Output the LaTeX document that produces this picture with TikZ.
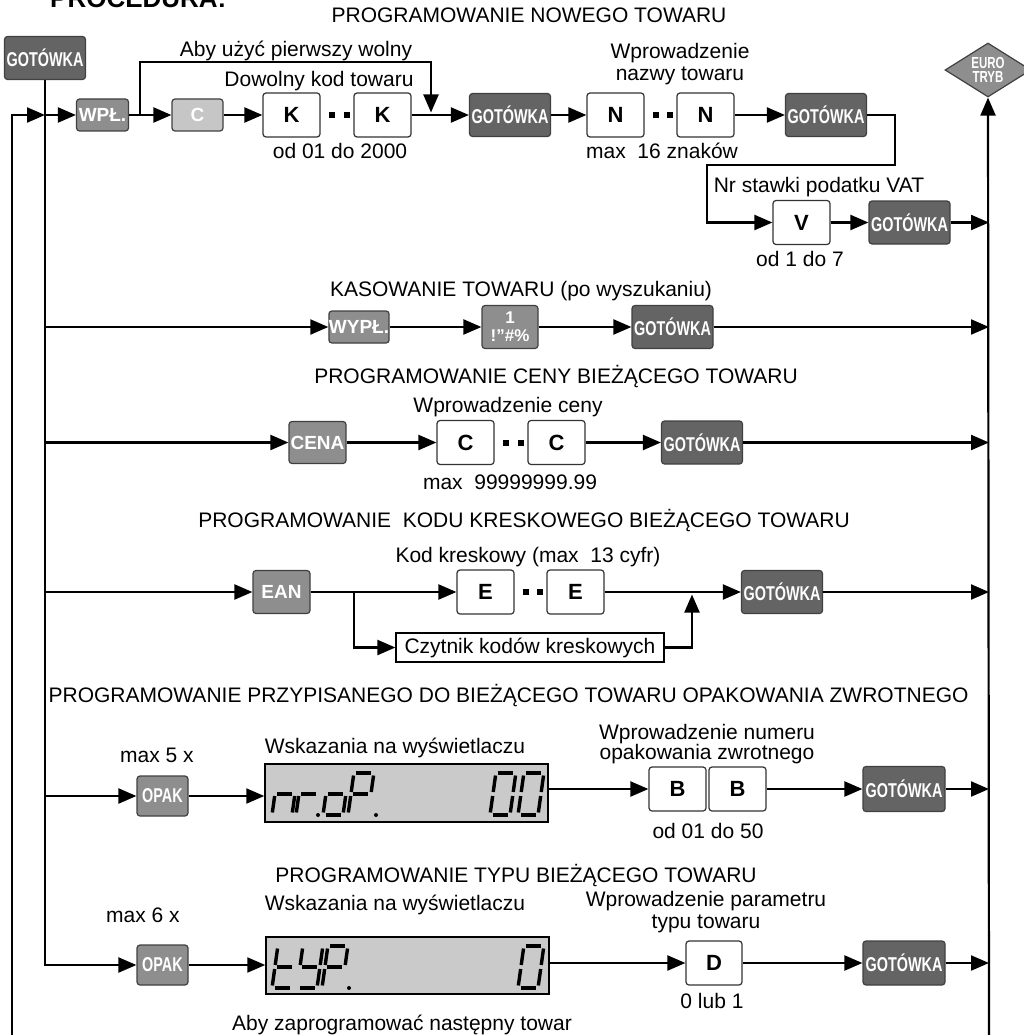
\documentclass[tikz,border=0pt]{standalone}
\usepackage{fontspec}
\setmainfont{Liberation Sans}
\newfontfamily\narrowkey{Liberation Sans}[FakeStretch=0.72]
\usetikzlibrary{arrows.meta,shapes.geometric,calc}
\definecolor{keydark}{HTML}{646464}
\definecolor{keymid}{HTML}{8E8E8E}
\definecolor{keylight}{HTML}{C6C6C6}
\definecolor{lcdgray}{HTML}{CACACA}
\newcommand\lcdA{(2.5,-42)--(17.5,-42)}
\newcommand\lcdB{(20,-39.5)--(20,-23)}
\newcommand\lcdC{(20,-19)--(20,-2.5)}
\newcommand\lcdD{(2.5,0)--(17.5,0)}
\newcommand\lcdE{(0,-19)--(0,-2.5)}
\newcommand\lcdF{(0,-39.5)--(0,-23)}
\newcommand\lcdG{(2.5,-21)--(17.5,-21)}
\newcommand\lcdchar[3]{\begin{scope}[shift={(#1,#2)},xslant=0.14]
  \foreach \s in {#3}{\draw[line width=3.4pt] \s;}\end{scope}}
\newcommand\lcddot[2]{\fill (#1,#2) circle (2pt);}
\begin{document}
\begin{tikzpicture}[x=1pt,y=-1pt,
  txt/.style={font=\fontsize{21}{22}\selectfont,inner sep=0pt,anchor=base},
  key/.style={draw=black!75,line width=1.2pt,rounded corners=3pt,text=white,inner sep=0pt,
    font=\bfseries\fontsize{19}{19}\selectfont},
  mkey/.style={key,fill=keymid,minimum width=52,minimum height=32},
  nkey/.style={font=\narrowkey\bfseries\fontsize{20}{20}\selectfont},
  gkey/.style={key,nkey,fill=keydark,minimum width=81,minimum height=43},
  wbox/.style={draw=black!80,line width=1.2pt,rounded corners=3pt,fill=white,inner sep=0pt,
    minimum width=57,minimum height=44,font=\bfseries\fontsize{22}{22}\selectfont},
  lcd/.style={draw,line width=1.5pt,fill=lcdgray,minimum width=283,minimum height=58,inner sep=0pt},
  ln/.style={line width=2.2pt},
  arr/.style={ln,-{Triangle[length=18pt,width=15pt]}}]
  \useasboundingbox (0,0) rectangle (1023,1035);
  \node[anchor=base west,inner sep=0pt,font=\bfseries\fontsize{26}{26}\selectfont] (PR) at (50,8) {PROCEDURA:};
  \node[gkey] (GT) at (45,58) {GOTÓWKA};
  \node[diamond,draw=black!75,line width=1.2pt,fill=keymid,minimum width=86,minimum height=54,inner sep=0pt,
    aspect=1.6,text=white,align=center,font=\narrowkey\bfseries\fontsize{16}{14}\selectfont] (EU) at (988,70) {EURO\\TRYB};
  \coordinate (LB) at (12,1040); \coordinate (RB) at (989,1040);

  \node[txt] (T1) at (529,22.5) {PROGRAMOWANIE NOWEGO TOWARU};
  \node[mkey] (W) at (102.5,115) {WPŁ.};
  \node[key,fill=keylight,minimum width=51,minimum height=32] (CK) at (197.5,115) {C};
  \node[wbox] (K1) at (291.5,115) {K}; \node[wbox] (K2) at (382.5,115) {K};
  \node[gkey] (G1) at (510,115) {GOTÓWKA};
  \node[wbox] (N1) at (615.5,115) {N}; \node[wbox] (N2) at (705.5,115) {N};
  \node[gkey] (G2) at (826,115) {GOTÓWKA};
  \node[wbox] (V) at (801.5,222.5) {V}; \node[gkey] (G3) at (909.5,222.5) {GOTÓWKA};
  \node[txt] (L1a) at (296,57) {Aby użyć pierwszy wolny};
  \node[txt] (L1b) at (319,87) {Dowolny kod towaru};
  \node[txt] (L1c) at (340,159) {od 01 do 2000};
  \node[txt,anchor=north,align=center] (L1d) at (680,42.7) {Wprowadzenie\\nazwy towaru};
  \node[txt] (L1e) at (662,159) {max\ \ 16 znaków};
  \node[txt] (L1f) at (819,193) {Nr stawki podatku VAT};
  \node[txt] (L1g) at (800,266) {od 1 do 7};

  \node[txt] (T2) at (521,296) {KASOWANIE TOWARU (po wyszukaniu)};
  \node[mkey] (WY) at (359,327) {WYPŁ.};
  \node[key,fill=keymid,minimum width=56,minimum height=43,align=center,
    font=\bfseries\fontsize{17}{18}\selectfont] (ONE) at (510,327) {1\\!”\#\%};
  \node[gkey] (G4) at (672.5,327) {GOTÓWKA};

  \node[txt] (T3) at (556,383) {PROGRAMOWANIE CENY BIEŻĄCEGO TOWARU};
  \node[txt] (L3a) at (508,412) {Wprowadzenie ceny};
  \node[mkey,minimum width=57,minimum height=42] (CE) at (317.5,442.5) {CENA};
  \node[wbox] (C1) at (465.5,442.5) {C}; \node[wbox] (C2) at (556.5,442.5) {C};
  \node[gkey] (G5) at (702,442.5) {GOTÓWKA};
  \node[txt] (L3b) at (510,489) {max\ \ 99999999.99};

  \node[txt] (T4) at (524,527) {PROGRAMOWANIE\ \ KODU KRESKOWEGO BIEŻĄCEGO TOWARU};
  \node[txt] (L4a) at (528,562) {Kod kreskowy (max\ \ 13 cyfr)};
  \node[mkey,minimum width=57,minimum height=43] (EA) at (281.5,592) {EAN};
  \node[wbox] (E1) at (485.5,592) {E}; \node[wbox] (E2) at (575.5,592) {E};
  \node[gkey] (G6) at (782,592) {GOTÓWKA};
  \node[draw,line width=1.2pt,fill=white,minimum width=268,minimum height=29,inner sep=0pt,
    font=\fontsize{21}{22}\selectfont] (CZ) at (530,647.5) {Czytnik kodów kreskowych};

  \node[txt] (T5) at (508.5,702) {PROGRAMOWANIE PRZYPISANEGO DO BIEŻĄCEGO TOWARU OPAKOWANIA ZWROTNEGO};
  \node[txt] (L5a) at (157,762) {max 5 x};
  \node[txt] (L5b) at (395,753) {Wskazania na wyświetlaczu};
  \node[txt,anchor=north,align=center,font=\fontsize{21}{18}\selectfont] (L5c) at (707,723.7) {Wprowadzenie numeru\\opakowania zwrotnego};
  \node[mkey,nkey,minimum width=51,minimum height=40] (O1) at (162.5,796) {OPAK};
  \node[lcd] (D1) at (406.5,793) {};
  \node[wbox] (B1) at (677.5,789) {B}; \node[wbox] (B2) at (737.5,789) {B};
  \node[gkey,minimum width=82,minimum height=45] (G7) at (904,789) {GOTÓWKA};
  \node[txt] (L5d) at (708,838) {od 01 do 50};

  \node[txt] (T6) at (516,882) {PROGRAMOWANIE TYPU BIEŻĄCEGO TOWARU};
  \node[txt] (L6a) at (143,922) {max 6 x};
  \node[txt] (L6b) at (395,910) {Wskazania na wyświetlaczu};
  \node[txt,anchor=north,align=center] (L6c) at (706,890.7) {Wprowadzenie parametru\\typu towaru};
  \node[mkey,nkey,minimum width=51,minimum height=40] (O2) at (162.5,965) {OPAK};
  \node[lcd,minimum height=57] (D2) at (407.5,965.5) {};
  \node[wbox,minimum width=56] (D) at (714,963) {D};
  \node[gkey,minimum width=82,minimum height=44] (G8) at (904,963) {GOTÓWKA};
  \node[txt] (L6d) at (712,1008) {0 lub 1};
  \node[txt] (L6e) at (402,1030) {Aby zaprogramować następny towar};

  \lcdchar{272}{815}{\lcdC,\lcdE,\lcdG} \lcdchar{296}{815}{\lcdE,\lcdG} \lcddot{318}{815}
  \lcdchar{323}{815}{\lcdC,\lcdD,\lcdE,\lcdG} \lcdchar{348}{815}{\lcdA,\lcdB,\lcdE,\lcdF,\lcdG} \lcddot{376}{815}
  \lcdchar{490}{815}{\lcdA,\lcdB,\lcdC,\lcdD,\lcdE,\lcdF} \lcdchar{518}{815}{\lcdA,\lcdB,\lcdC,\lcdD,\lcdE,\lcdF}
  \lcdchar{272}{988}{\lcdD,\lcdE,\lcdF,\lcdG} \lcdchar{297}{988}{\lcdB,\lcdC,\lcdD,\lcdF,\lcdG}
  \lcdchar{322}{988}{\lcdA,\lcdB,\lcdE,\lcdF,\lcdG} \lcddot{349}{988}
  \lcdchar{518}{988}{\lcdA,\lcdB,\lcdC,\lcdD,\lcdE,\lcdF}

  \foreach \a/\b in {K1/K2,N1/N2,C1/C2,E1/E2} {
    \fill ($(\a.east)!.35!(\b.west)$) +(-3,-3) rectangle +(3,3);
    \fill ($(\a.east)!.8!(\b.west)$) +(-3,-3) rectangle +(3,3);}

  \draw[arr] (GT.south) |- (O2.west);
  \draw[arr] (LB) |- (GT.south |- W.west);
  \draw[arr] (RB) -- (EU.south);
  \foreach \k in {W,WY,CE,EA,O1} \draw[arr] (GT.south |- \k.west) -- (\k.west);
  \foreach \g in {G3,G4,G5,G6,G7,G8} \draw[arr] (\g.east) -- (\g.east -| RB);

  \coordinate (UP) at (140,115); \coordinate (DN) at (431,112.5);
  \draw[arr] (W.east) -- (CK.west); \draw[arr] (UP) |- (431,62) -- (DN);
  \draw[arr] (CK.east) -- (K1.west); \draw[arr] (K2.east) -- (G1.west);
  \draw[arr] (G1.east) -- (N1.west); \draw[arr] (N2.east) -- (G2.west);
  \draw[arr] (G2.east) -- (895,115) |- (707,165) |- (V.west); \draw[arr] (V.east) -- (G3.west);

  \draw[arr] (WY.east) -- (ONE.west); \draw[arr] (ONE.east) -- (G4.west);
  \draw[arr] (CE.east) -- (C1.west); \draw[arr] (C2.east) -- (G5.west);

  \coordinate (EB) at (354,592); \coordinate (EM) at (692,594.5);
  \draw[arr] (EA.east) -- (E1.west); \draw[arr] (EB) |- (CZ.west);
  \draw[arr] (E2.east) -- (G6.west); \draw[arr] (CZ.east) -| (EM);

  \draw[arr] (O1.east) -- (O1.east -| D1.west); \draw[arr] (D1.east |- B1.west) -- (B1.west);
  \draw[arr] (B2.east) -- (G7.west);
  \draw[arr] (O2.east) -- (O2.east -| D2.west); \draw[arr] (D2.east |- D.west) -- (D.west);
  \draw[arr] (D.east) -- (G8.west);
\end{tikzpicture}
\end{document}
